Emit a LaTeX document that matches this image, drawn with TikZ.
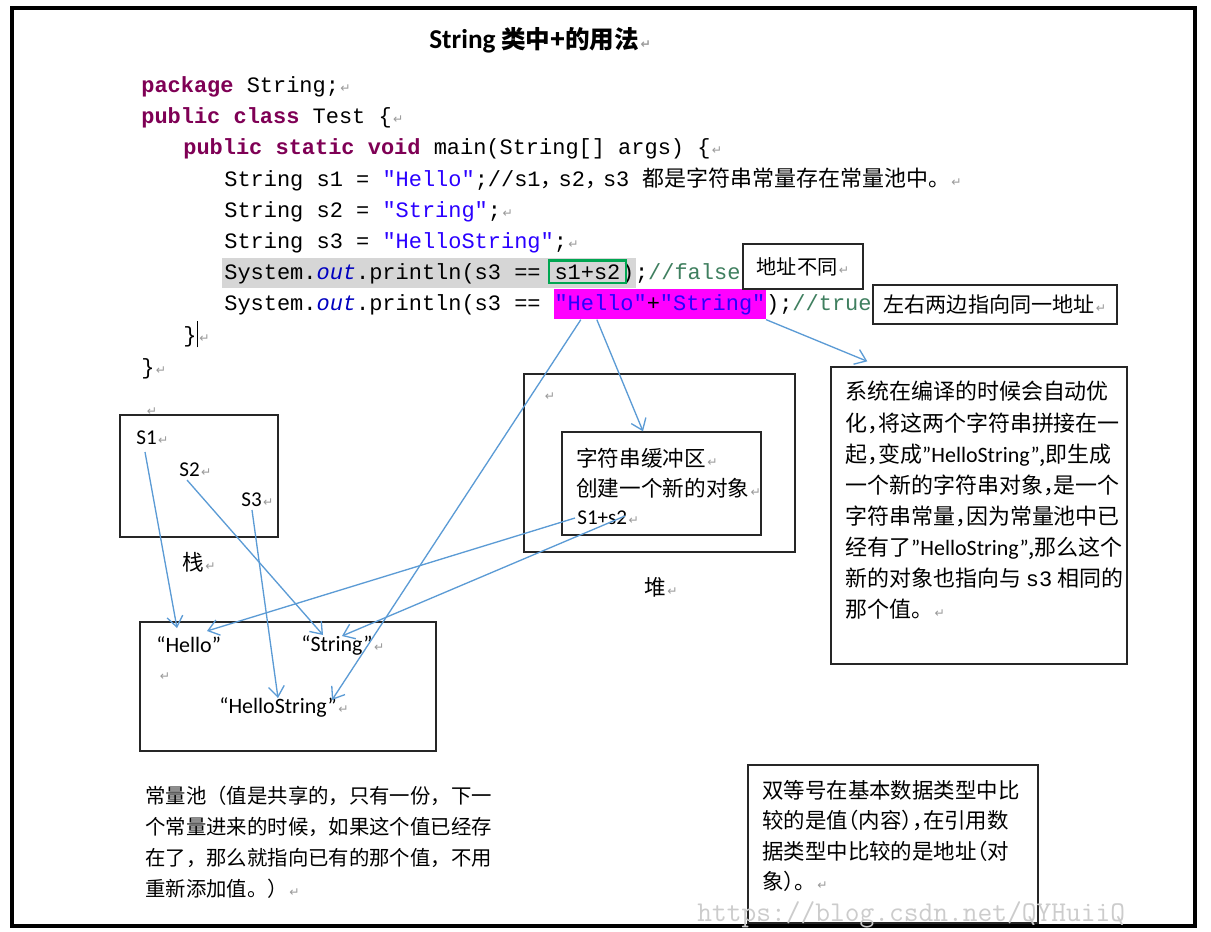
\documentclass[tikz,border=0pt]{standalone}
\usepackage{fontspec}
\setmainfont{Carlito}
\setmonofont{Liberation Mono}
\newfontfamily\cjk{Noto Sans CJK SC}[RawFeature=+halt]
\newfontfamily\cjkw{Noto Sans CJK SC}
\newfontfamily\markfont{DejaVu Sans}
\usetikzlibrary{arrows.meta, positioning, calc, backgrounds, fit}
\definecolor{arrowblue}{HTML}{5B9BD5}
\definecolor{kwpurple}{HTML}{7F0055}
\definecolor{strblue}{HTML}{2A00FF}
\definecolor{outblue}{HTML}{0000C0}
\definecolor{comgreen}{HTML}{3F7F5F}
\definecolor{hlgray}{HTML}{D6D6D6}
\definecolor{hlpink}{HTML}{FF00FF}
\definecolor{boxgreen}{HTML}{00A651}
\definecolor{markgray}{HTML}{9A9A9A}
\newcommand\retm{{\kern0.8pt\markfont\fontsize{7}{7}\selectfont\color{markgray}↵}}
\newcommand\jkw[1]{\textcolor{kwpurple}{\textbf{#1}}}
\newcommand\jstr[1]{\textcolor{strblue}{#1}}
\newcommand\jout{\textcolor{outblue}{\textit{out}}}
\newcommand\jcom[1]{\textcolor{comgreen}{#1}}

\begin{document}
\begin{tikzpicture}[
    x=0.02cm, y=-0.02cm,
    codeline/.style={anchor=base west, inner sep=0pt, font=\ttfamily\fontsize{12.5}{15}\selectfont},
    box/.style={draw=black!85, line width=0.8pt, fill=white, inner sep=0pt},
    lbl/.style={anchor=west, inner sep=0pt, font=\fontsize{12}{14}\selectfont},
    cn/.style={anchor=west, inner sep=0pt, font=\cjk\fontsize{12.3}{15}\selectfont},
    para/.style={anchor=north west, inner sep=0pt, align=left},
    arrow/.style={-{Straight Barb[length=6pt,width=9pt]}, line width=0.75pt, arrowblue}
]
\useasboundingbox (0,0) rectangle (1211,931);
\begin{scope}[on background layer]
\fill[white] (0,0) rectangle (1211,931);
\end{scope}
\draw[line width=2.3pt] (12,8) rectangle (1195,926);

% Title and code
\node[anchor=west, inner sep=0pt, font=\cjk\bfseries\fontsize{14}{17}\selectfont] (title) at (429,40) {\textrm{\fontsize{15.5}{17}\selectfont String} 类中+的用法\retm};
\node[codeline] (c1) at (141,92) {\jkw{package} String;\retm};
\node[codeline] (c2) at (141,123) {\jkw{public class} Test \{\retm};
\node[codeline] (c3) at (183,154) {\jkw{public static void} main(String[] args) \{\retm};
\node[codeline] (c4) at (224,186) {String s1 = \jstr{"Hello"};//s1{\cjk ，}\kern4pt s2{\cjk ，}\kern4pt s3 {\cjk 都是字符串常量存在常量池中}{\cjkw 。}\retm};
\node[codeline] (c5) at (224,217) {String s2 = \jstr{"String"};\retm};
\node[codeline] (c6) at (224,248) {String s3 = \jstr{"HelloString"};\retm};
\node[codeline] (c7a) at (224,279) {System.\jout.println(s3 ==};
\node[codeline] (sum) at ([xshift=7.5pt]c7a.base east) {s1+s2};
\node[codeline] (c7c) at (sum.base east) {)};
\node[codeline] (c7d) at (c7c.base east) {;\jcom{//false}\retm};
\node[codeline] (c8a) at (224,310) {System.\jout.println(s3 ==};
\node[codeline] (lit) at ([xshift=7.5pt]c8a.base east) {\jstr{"Hello"}+\jstr{"String"}};
\node[codeline] (c8c) at (lit.base east) {);\jcom{//true}\retm};
\node[codeline] (c9) at (183,342) {\}\rule[-3pt]{0.8pt}{15pt}\retm};
\node[codeline] (c10) at (141,374) {\}\retm};
\begin{scope}[on background layer]
\node[fit=(c7a)(c7c), fill=hlgray, inner xsep=1pt, inner ysep=2.5pt] (hlfalse) {};
\node[fit=(lit), fill=hlpink, inner xsep=0pt, inner ysep=2.5pt] (hltrue) {};
\end{scope}
\node[fit=(sum), draw=boxgreen, line width=1.6pt, inner xsep=3pt, inner ysep=2pt] (sumbox) {};
\node[box, minimum width=2.4cm, minimum height=0.9cm, font=\cjk\fontsize{11.5}{14}\selectfont] (diff) at (803,266.5) {地址不同\retm};
\node[box, minimum width=4.88cm, minimum height=0.78cm, font=\cjk\fontsize{12}{14}\selectfont] (same) at (995,304.5) {左右两边指向同一地址\retm};

% Stack
\node[cn] (stackmark) at (145,412) {\retm};
\node[box, minimum width=3.16cm, minimum height=2.44cm] (stack) at (199,476) {};
\node[lbl] (s1) at (136,438) {S1\retm};
\node[lbl] (s2) at (179,470) {S2\retm};
\node[lbl] (s3) at (241,500) {S3\retm};
\node[cn] (stacklbl) at (182,562) {栈\retm};

% Heap
\node[box, minimum width=5.42cm, minimum height=3.56cm] (heap) at (659.5,463) {};
\node[cn] (heapmark) at (543,397) {\retm};
\node[box, minimum width=3.98cm, minimum height=2.06cm] (buffer) at (661.5,483.5) {};
\node[cn] (buf1) at (576,458) {字符串缓冲区\retm};
\node[cn] (buf2) at (576,488) {创建一个新的对象\retm};
\node[lbl] (s12) at (577,518) {S1+s2\retm};
\node[cn] (heaplbl) at (644,587) {堆\retm};

% Notes
\node[box, minimum width=5.92cm, minimum height=5.94cm] (note) at (979,515.5) {};
\node[para, font=\cjk\fontsize{12.5}{17.7}\selectfont] (notetext) at (845,381) {系统在编译的时候会自动优\\化，将这两个字符串拼接在一\\起，变成\textrm{”HelloString”},即生成\\一个新的字符串对象，是一个\\字符串常量，因为常量池中已\\经有了\textrm{”HelloString”},那么这个\\新的对象也指向与 \texttt{s3} 相同的\\那个值{\cjkw 。}\retm};

% Constant pool
\node[box, minimum width=5.92cm, minimum height=2.58cm] (pool) at (288,686.5) {};
\node[lbl, font=\fontsize{12.5}{15}\selectfont] (hello) at (156,645) {“Hello”};
\node[lbl, font=\fontsize{12.5}{15}\selectfont] (strg) at (301,645) {“String”\retm};
\node[cn] (poolmark) at (158,677) {\retm};
\node[lbl, font=\fontsize{12.5}{15}\selectfont] (hstr) at (219,707) {“HelloString”\retm};
\node[para, font=\cjkw\fontsize{11.6}{17.6}\selectfont] (pooltext) at (145,786) {常量池（值是共享的，只有一份，下一\\个常量进来的时候，如果这个值已经存\\在了，那么就指向已有的那个值，不用\\重新添加值。）\retm};

\node[box, minimum width=5.8cm, minimum height=3.16cm] (eqnote) at (893,844) {};
\node[para, font=\cjk\fontsize{12.2}{17.3}\selectfont] (eqtext) at (762,780) {双等号在基本数据类型中比\\较的是值（内容），在引用数\\据类型中比较的是地址（对\\象）{\cjkw 。}\retm};
\node[anchor=west, inner sep=0pt, text=black!20, font=\fontfamily{lmtt}\fontsize{16.3}{16}\selectfont] (wmark) at (697,915) {https://blog.csdn.net/QYHuiiQ};

% Arrows
\draw[arrow] ($(s1.west)+(9,14)$) -- ($(hello.west)+(21,-17)$);
\draw[arrow] ($(s2.west)+(8,10)$) -- ($(strg.west)+(22,-10)$);
\draw[arrow] ($(s3.west)+(11,10)$) -- ($(hstr.west)+(59,-9)$);
\draw[arrow] ($(s12.west)+(-2,0)$) -- ($(hello.west)+(51,-14)$);
\draw[arrow] ($(s12.west)+(48,-2)$) -- ($(strg.west)+(41,-9)$);
\draw[arrow] ($(hltrue.south west)+(27,0)$) -- ($(hstr.west)+(113,-7)$);
\draw[arrow] ($(hltrue.south west)+(43,0)$) -- ($(buffer.north)+(-18.5,0)$);
\draw[arrow] (hltrue.south east) -- ($(note.north west)+(37,-5)$);

\end{tikzpicture}
\end{document}
